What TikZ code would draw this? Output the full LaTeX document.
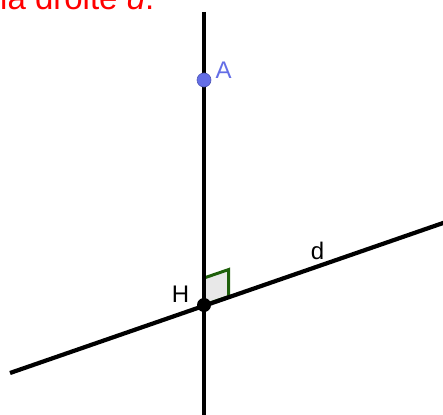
\documentclass[tikz,border=0pt]{standalone}
\usepackage{fontspec}
\setmainfont{Liberation Sans}
\definecolor{titlered}{RGB}{255,0,0}
\definecolor{ptblue}{RGB}{100,110,230}
\definecolor{anggreen}{RGB}{30,95,10}
\tikzset{
  axisline/.style={line width=4.2pt},
  lbl/.style={inner sep=0pt, font=\fontsize{24}{28}\selectfont}
}
\begin{document}
\begin{tikzpicture}[x=1pt, y=-1pt]
\useasboundingbox (0,0) rectangle (443,414);
\clip (0,0) rectangle (443,414);
\node[anchor=base west, inner sep=0pt, text=titlered, font=\fontsize{33}{38}\selectfont] (title) at (0,9.5) {la droite \textit{d}.};
\coordinate (top) at (204,12);
\coordinate (bot) at (204,420);
\coordinate (dL) at (10,373);
\coordinate (dR) at (450,220.6);
\coordinate (H) at (204,305);
% right angle marker
\filldraw[fill=gray!18, draw=anggreen, line width=3pt] (H) -- ++(0,-27) -- ++(24.6,-8.45) -- ++(0,27) -- cycle;
\draw[axisline] (top) -- (bot);
\draw[axisline] (dL) -- (dR);
\node[circle, fill=ptblue, draw=ptblue!80!black, line width=0.6pt, inner sep=0pt, minimum size=14pt] (A) at (204,80) {};
\node[circle, fill=black, inner sep=0pt, minimum size=14pt] (Hpt) at (H) {};
\node[lbl, text=ptblue] (Alab) at (223.5,70) {A};
\node[lbl] (Hlab) at (180.5,294.5) {H};
\node[lbl] (dlab) at (317.5,250.5) {d};
\end{tikzpicture}
\end{document}
